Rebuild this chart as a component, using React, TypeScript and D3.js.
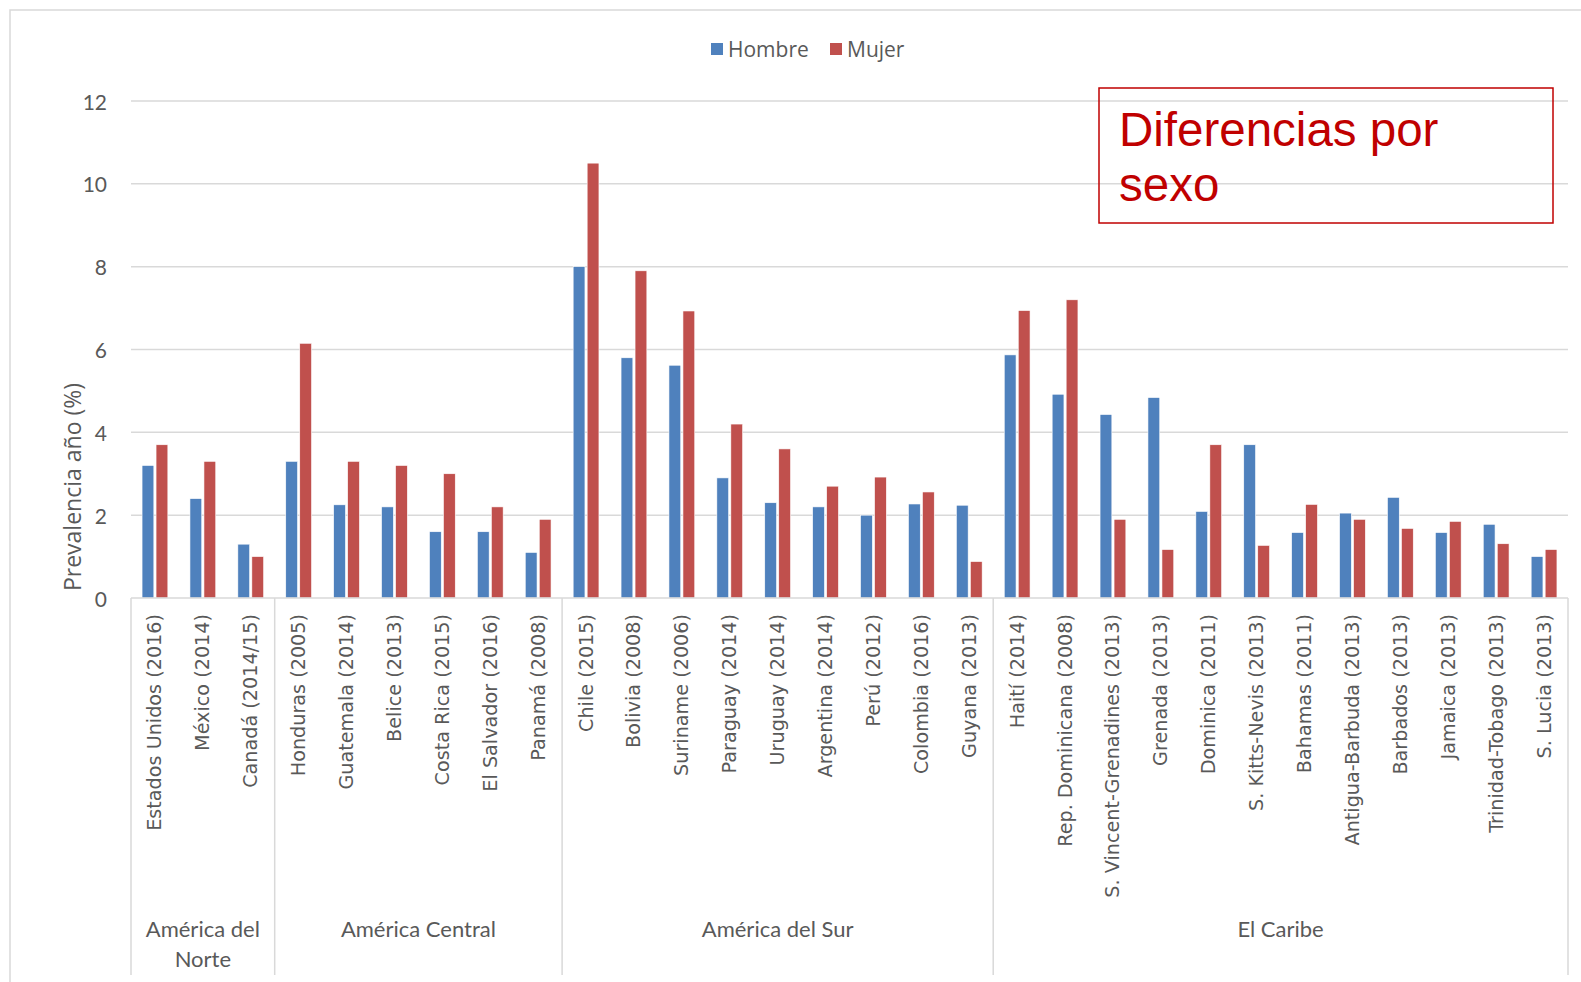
import React from "react";
import * as d3 from "d3";

const countries = [
  "Estados Unidos (2016)", "México (2014)", "Canadá (2014/15)",
  "Honduras (2005)", "Guatemala (2014)", "Belice (2013)", "Costa Rica (2015)", "El Salvador (2016)", "Panamá (2008)",
  "Chile (2015)", "Bolivia (2008)", "Suriname (2006)", "Paraguay (2014)", "Uruguay (2014)", "Argentina (2014)", "Perú (2012)", "Colombia (2016)", "Guyana (2013)",
  "Haití (2014)", "Rep. Dominicana (2008)", "S. Vincent-Grenadines (2013)", "Grenada (2013)", "Dominica (2011)", "S. Kitts-Nevis (2013)", "Bahamas (2011)", "Antigua-Barbuda (2013)", "Barbados (2013)", "Jamaica (2013)", "Trinidad-Tobago (2013)", "S. Lucia (2013)",
];

const hombre = [
  3.2, 2.4, 1.3,
  3.3, 2.25, 2.2, 1.6, 1.6, 1.1,
  8.0, 5.8, 5.62, 2.9, 2.3, 2.2, 2.0, 2.27, 2.24,
  5.87, 4.92, 4.43, 4.84, 2.09, 3.7, 1.58, 2.05, 2.43, 1.58, 1.78, 1.0,
];

const mujer = [
  3.7, 3.3, 1.0,
  6.15, 3.3, 3.2, 3.0, 2.2, 1.9,
  10.5, 7.9, 6.93, 4.2, 3.6, 2.7, 2.92, 2.56, 0.88,
  6.94, 7.2, 1.9, 1.17, 3.7, 1.27, 2.26, 1.9, 1.68, 1.85, 1.31, 1.17,
];

const regions = ["América del Norte", "América Central", "América del Sur", "El Caribe"];
const regionCounts = [3, 6, 9, 12];
const regionLines = [["América del", "Norte"], ["América Central"], ["América del Sur"], ["El Caribe"]];

const yTicks = [0, 2, 4, 6, 8, 10, 12];
const seriesNames = ["Hombre", "Mujer"];
const colors = ["#4F81BD", "#C0504D"];

export default function App() {
  const W = 1581, H = 982;
  const left = 131, right = 1568;
  const y0 = 598, yTop = 101;

  const x = d3.scaleBand<string>().domain(countries).range([left, right]).paddingInner(0).paddingOuter(0);
  const y = d3.scaleLinear().domain([0, 12]).range([y0, yTop]);
  const bw = x.bandwidth();
  const barW = 11.8;
  const gap = 2.2;

  const bounds: number[] = [left];
  let acc = 0;
  regionCounts.forEach((c) => { acc += c; bounds.push(left + acc * bw); });

  return (
    <svg width={W} height={H} style={{ position: "absolute", left: 0, top: 0, background: "#fff" }}>
      <rect x={10} y={10} width={W + 20} height={H + 20} fill="#fff" stroke="#D9D9D9" strokeWidth={1.5} />
      {yTicks.filter((t) => t > 0).map((t) => (
        <line key={t} x1={left} x2={right} y1={y(t)} y2={y(t)} stroke="#D9D9D9" strokeWidth={1.5} />
      ))}
      {yTicks.map((t) => (
        <text key={t} x={107} y={y(t)} textAnchor="end" dominantBaseline="central" fontFamily="Lato" fontSize={21} fill="#595959">{t}</text>
      ))}
      <text transform={`translate(72,${487}) rotate(-90)`} textAnchor="middle" dominantBaseline="central" fontFamily="Open Sans" fontSize={23} fill="#595959">Prevalencia año (%)</text>
      {countries.map((c, i) => {
        const cx = (x(c) as number) + bw / 2;
        return (
          <g key={c}>
            <rect x={cx - gap / 2 - barW} y={y(hombre[i])} width={barW} height={y0 - y(hombre[i])} fill={colors[0]} stroke="#fff" strokeWidth={0.6} />
            <rect x={cx + gap / 2} y={y(mujer[i])} width={barW} height={y0 - y(mujer[i])} fill={colors[1]} stroke="#fff" strokeWidth={0.6} />
          </g>
        );
      })}
      <line x1={left} x2={right} y1={y0} y2={y0} stroke="#D9D9D9" strokeWidth={1.5} />
      {bounds.map((b, i) => (
        <line key={i} x1={b} x2={b} y1={y0} y2={975} stroke="#D9D9D9" strokeWidth={1.5} />
      ))}
      {countries.map((c) => {
        const cx = (x(c) as number) + bw / 2;
        return (
          <text key={c} transform={`translate(${cx},614) rotate(-90)`} textAnchor="end" dominantBaseline="central" fontFamily="DejaVu Sans" fontSize={19.2} fill="#595959">{c}</text>
        );
      })}
      {regions.map((r, i) => {
        const cx = (bounds[i] + bounds[i + 1]) / 2;
        return (
          <text key={r} x={cx} y={937} textAnchor="middle" fontFamily="Lato" fontSize={22} fill="#595959">
            {regionLines[i].map((ln, j) => (
              <tspan key={j} x={cx} dy={j === 0 ? 0 : 29.5}>{ln}</tspan>
            ))}
          </text>
        );
      })}
      {seriesNames.map((s, i) => {
        const lx = [711, 830][i];
        return (
          <g key={s}>
            <rect x={lx} y={43} width={12} height={12} fill={colors[i]} />
            <text x={lx + 17} y={49} dominantBaseline="central" fontFamily="Open Sans" fontSize={21} fill="#595959">{s}</text>
          </g>
        );
      })}
      <rect x={1099} y={88} width={454} height={135} fill="none" stroke="#C00000" strokeWidth={1.5} />
      <text x={1119} y={146} fontFamily="Liberation Sans" fontSize={47.5} fill="#C00000">Diferencias por</text>
      <text x={1119} y={201} fontFamily="Liberation Sans" fontSize={47.5} fill="#C00000">sexo</text>
    </svg>
  );
}
